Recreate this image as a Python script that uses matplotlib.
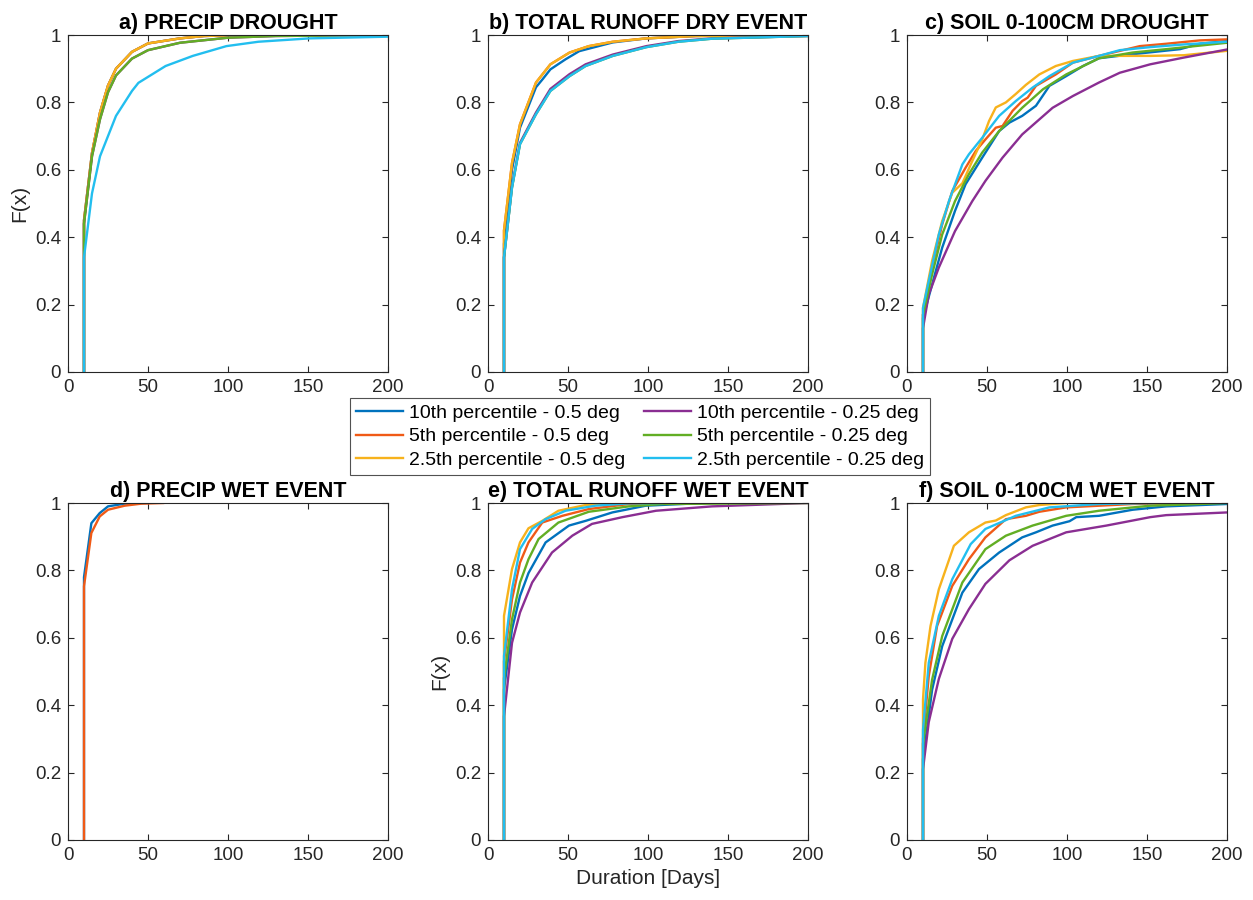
import matplotlib
matplotlib.use('Agg')
import matplotlib.pyplot as plt

plt.rcParams['font.family'] = ['Liberation Sans', 'DejaVu Sans']

labels = ['10th percentile - 0.5 deg', '5th percentile - 0.5 deg',
          '2.5th percentile - 0.5 deg', '10th percentile - 0.25 deg',
          '5th percentile - 0.25 deg', '2.5th percentile - 0.25 deg']
colors = ['#0072BD', '#F05A16', '#F7B21C', '#8A2E92', '#62AE24', '#22BEEF']
titles = ['a) PRECIP DROUGHT', 'b) TOTAL RUNOFF DRY EVENT', 'c) SOIL 0-100CM DROUGHT',
          'd) PRECIP WET EVENT', 'e) TOTAL RUNOFF WET EVENT', 'f) SOIL 0-100CM WET EVENT']

# a) precip drought
a_fast_x = [10, 10, 15, 20, 25, 30, 40, 50, 70, 85, 105]
a_fast_f = [0, 0.45, 0.65, 0.77, 0.85, 0.90, 0.95, 0.975, 0.99, 0.997, 1.0]
a_slow_x = [10, 10, 15, 20, 25, 30, 40, 50, 70, 100, 130, 200]
a_slow_f = [0, 0.44, 0.64, 0.75, 0.83, 0.88, 0.93, 0.955, 0.977, 0.992, 0.997, 1.0]
a_cyan_x = [10, 10, 15, 20, 30, 40, 44, 61, 78, 99, 119, 151, 200]
a_cyan_f = [0, 0.34, 0.53, 0.64, 0.76, 0.834, 0.858, 0.908, 0.938, 0.967, 0.98, 0.99, 0.995]

# b) total runoff dry event
b_orange_x = [10, 10, 15, 20, 30, 39, 51, 63, 78, 99, 130, 200]
b_orange_f = [0, 0.42, 0.62, 0.735, 0.859, 0.913, 0.948, 0.967, 0.98, 0.99, 0.997, 1.0]
b_blue_x = [10, 10, 15, 20, 30, 34, 39, 48.5, 57, 78, 99, 130, 200]
b_blue_f = [0, 0.38, 0.60, 0.725, 0.845, 0.868, 0.898, 0.928, 0.952, 0.978, 0.99, 0.997, 1.0]
b_slow_x = [10, 10, 15, 20, 30, 39, 51, 61, 78, 99, 119, 140, 200]
b_slow_f = [0, 0.34, 0.547, 0.676, 0.765, 0.834, 0.878, 0.908, 0.938, 0.964, 0.98, 0.989, 0.997]
b_purple_f = [0, 0.34, 0.55, 0.68, 0.77, 0.84, 0.884, 0.913, 0.942, 0.967, 0.982, 0.99, 0.997]

# c) soil 0-100cm drought
c_blue_x = [10, 10, 15.7, 22, 30, 36.6, 47, 57.6, 64, 72, 80.6, 89, 99.5, 110, 120, 141, 170.7, 183, 200]
c_blue_f = [0, 0.16, 0.26, 0.369, 0.478, 0.557, 0.636, 0.715, 0.74, 0.76, 0.79, 0.849, 0.878, 0.908, 0.931, 0.943, 0.958, 0.974, 0.982]
c_orange_x = [10, 10, 15.7, 22, 28.3, 36.6, 43, 49, 55.5, 59.7, 66, 72, 75.4, 80.6, 93, 103.7, 120, 145.5, 162, 183, 200]
c_orange_f = [0, 0.17, 0.31, 0.438, 0.537, 0.606, 0.656, 0.69, 0.725, 0.73, 0.775, 0.804, 0.814, 0.849, 0.883, 0.918, 0.938, 0.967, 0.974, 0.984, 0.987]
c_yellow_x = [10, 10, 15.7, 22, 28.3, 34.6, 40.8, 47, 51.3, 55.5, 61.8, 68, 74.3, 82.7, 93, 103.7, 120, 131, 152, 173, 200]
c_yellow_f = [0, 0.19, 0.33, 0.448, 0.532, 0.56, 0.626, 0.69, 0.745, 0.785, 0.80, 0.825, 0.852, 0.883, 0.908, 0.923, 0.938, 0.938, 0.938, 0.94, 0.953]
c_purple_x = [10, 10, 13.6, 19.9, 30, 40.8, 49, 59.7, 72, 91, 103.7, 120, 133, 152, 173, 200]
c_purple_f = [0, 0.13, 0.23, 0.31, 0.418, 0.507, 0.567, 0.636, 0.705, 0.784, 0.819, 0.859, 0.888, 0.913, 0.933, 0.957]
c_green_x = [10, 10, 15.7, 22, 30, 38.7, 47, 57.6, 72, 85, 99.5, 120, 141, 162, 200]
c_green_f = [0, 0.17, 0.29, 0.408, 0.507, 0.587, 0.651, 0.715, 0.784, 0.839, 0.883, 0.931, 0.948, 0.958, 0.977]
c_cyan_x = [10, 10, 13.6, 19.9, 26.2, 34.6, 38.7, 47, 57.6, 68, 78.5, 89, 103.7, 120, 133, 152, 173, 200]
c_cyan_f = [0, 0.19, 0.27, 0.408, 0.507, 0.616, 0.646, 0.695, 0.76, 0.804, 0.844, 0.878, 0.918, 0.938, 0.955, 0.964, 0.972, 0.98]

# d) precip wet event
d_blue_x = [10, 10, 14.6, 19.8, 25, 35.4, 50]
d_blue_f = [0, 0.78, 0.94, 0.97, 0.99, 0.998, 1.0]
d_orange_x = [10, 10, 14.6, 19.8, 25, 35.4, 45.8, 59.4]
d_orange_f = [0, 0.753, 0.911, 0.96, 0.98, 0.992, 0.998, 1.0]

# e) total runoff wet event
e_blue_x = [10, 10, 15, 20, 25.3, 36, 50.6, 61, 77.7, 98.6, 135]
e_blue_f = [0, 0.446, 0.625, 0.724, 0.792, 0.883, 0.933, 0.947, 0.972, 0.992, 1.0]
e_orange_x = [10, 10, 15, 20, 25.3, 33.9, 46.5, 63, 88, 109]
e_orange_f = [0, 0.53, 0.714, 0.823, 0.883, 0.942, 0.962, 0.982, 0.997, 1.0]
e_yellow_x = [10, 10, 15, 20, 25.3, 33.9, 44, 61, 80]
e_yellow_f = [0, 0.665, 0.804, 0.883, 0.925, 0.947, 0.977, 0.994, 1.0]
e_purple_x = [10, 10, 15, 20, 27.6, 40, 52.7, 65, 84, 105, 140, 200]
e_purple_f = [0, 0.367, 0.585, 0.675, 0.764, 0.853, 0.903, 0.938, 0.958, 0.977, 0.99, 1.0]
e_green_x = [10, 10, 15, 20, 25.3, 31.6, 44, 63, 88, 109, 200]
e_green_f = [0, 0.48, 0.655, 0.764, 0.833, 0.893, 0.942, 0.974, 0.99, 0.997, 1.0]
e_cyan_x = [10, 10, 15, 20, 27.6, 36, 48.5, 67, 88, 109]
e_cyan_f = [0, 0.546, 0.744, 0.863, 0.923, 0.952, 0.977, 0.992, 0.999, 1.0]

# f) soil 0-100cm wet event
f_blue_x = [10, 10, 15.7, 22, 34.6, 45, 57.6, 72, 80.6, 91, 101.6, 105.8, 120, 141, 162, 200]
f_blue_f = [0, 0.24, 0.446, 0.575, 0.734, 0.804, 0.853, 0.898, 0.913, 0.933, 0.946, 0.958, 0.962, 0.98, 0.99, 0.997]
f_orange_x = [10, 10, 13.6, 18.8, 28.3, 38.7, 49, 61.8, 74.3, 82.7, 99.5, 141, 175]
f_orange_f = [0, 0.30, 0.486, 0.635, 0.754, 0.833, 0.898, 0.952, 0.962, 0.974, 0.987, 0.997, 1.0]
f_yellow_x = [10, 10, 11.5, 14.7, 19.9, 29.3, 38.7, 49, 55.5, 61.8, 74.3, 82.7, 99.5]
f_yellow_f = [0, 0.417, 0.526, 0.635, 0.744, 0.873, 0.913, 0.942, 0.948, 0.964, 0.987, 0.994, 1.0]
f_purple_x = [10, 10, 13.6, 19.9, 28.3, 38.7, 49, 64, 78.5, 99.5, 124.6, 152, 162, 200]
f_purple_f = [0, 0.21, 0.35, 0.478, 0.597, 0.685, 0.76, 0.83, 0.873, 0.913, 0.933, 0.958, 0.964, 0.972]
f_green_x = [10, 10, 15.7, 22, 34.6, 49, 61.8, 78.5, 99.5, 120, 152, 200]
f_green_f = [0, 0.286, 0.476, 0.605, 0.764, 0.863, 0.903, 0.933, 0.962, 0.977, 0.992, 1.0]
f_cyan_x = [10, 10, 13.6, 19.9, 28.3, 39.8, 49, 68, 89, 120, 154]
f_cyan_f = [0, 0.327, 0.526, 0.665, 0.774, 0.878, 0.923, 0.962, 0.987, 0.997, 1.0]

panels = [
    [(a_fast_x, a_fast_f), (a_fast_x, a_fast_f), (a_fast_x, a_fast_f),
     (a_slow_x, a_slow_f), (a_slow_x, a_slow_f), (a_cyan_x, a_cyan_f)],
    [(b_blue_x, b_blue_f), (b_orange_x, b_orange_f), (b_orange_x, b_orange_f),
     (b_slow_x, b_purple_f), (b_slow_x, b_slow_f), (b_slow_x, b_slow_f)],
    [(c_blue_x, c_blue_f), (c_orange_x, c_orange_f), (c_yellow_x, c_yellow_f),
     (c_purple_x, c_purple_f), (c_green_x, c_green_f), (c_cyan_x, c_cyan_f)],
    [(d_blue_x, d_blue_f), (d_orange_x, d_orange_f), None, None, None, None],
    [(e_blue_x, e_blue_f), (e_orange_x, e_orange_f), (e_yellow_x, e_yellow_f),
     (e_purple_x, e_purple_f), (e_green_x, e_green_f), (e_cyan_x, e_cyan_f)],
    [(f_blue_x, f_blue_f), (f_orange_x, f_orange_f), (f_yellow_x, f_yellow_f),
     (f_purple_x, f_purple_f), (f_green_x, f_green_f), (f_cyan_x, f_cyan_f)],
]

W, H = 1253, 900
fig = plt.figure(figsize=(W / 100, H / 100), dpi=100)
lefts = [68, 488, 907]
tops = [35, 503]
aw, ah = 320, 337
axes = []
for r in range(2):
    for c in range(3):
        ax = fig.add_axes([lefts[c] / W, 1 - (tops[r] + ah) / H, aw / W, ah / H])
        axes.append(ax)

handles = []
for i, ax in enumerate(axes):
    for k, s in enumerate(panels[i]):
        if s is None:
            continue
        ln, = ax.plot(s[0], s[1], color=colors[k], lw=1.7, label=labels[k])
        if i == 2:
            handles.append(ln)
    ax.set_xlim(0, 200)
    ax.set_ylim(0, 1)
    ax.set_xticks([0, 50, 100, 150, 200])
    ax.set_yticks([0, 0.2, 0.4, 0.6, 0.8, 1])
    ax.set_yticklabels(['0', '0.2', '0.4', '0.6', '0.8', '1'])
    ax.tick_params(direction='in', length=4, width=0.8, top=True, right=True,
                   labelsize=13.5, colors='#262626', pad=5)
    for sp in ax.spines.values():
        sp.set_color('#262626')
        sp.set_linewidth(0.8)
    ax.set_title(titles[i], fontsize=15.5, fontweight='bold', pad=4)

axes[0].set_ylabel('F(x)', fontsize=15, color='#262626')
axes[4].set_ylabel('F(x)', fontsize=15, color='#262626')
axes[4].set_xlabel('Duration [Days]', fontsize=15, color='#262626')

leg = fig.legend(handles=handles, loc='center', bbox_to_anchor=(640 / W, 1 - 436.5 / H),
                 ncol=2, fontsize=14, frameon=True, fancybox=False, handlelength=2.4,
                 handletextpad=0.3, columnspacing=1.0, labelspacing=0.3,
                 borderpad=0.3, borderaxespad=0)
leg.get_frame().set_edgecolor('#262626')
leg.get_frame().set_linewidth(0.8)

fig.savefig('out.png', dpi=100)
